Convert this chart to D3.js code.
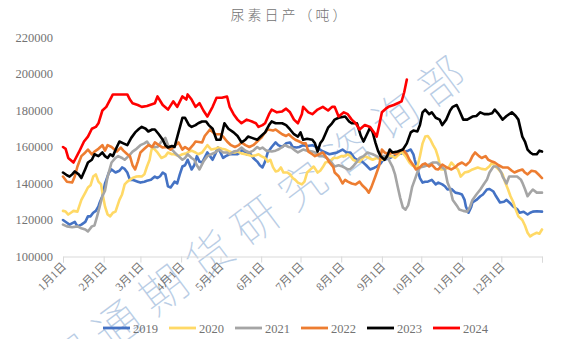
<!DOCTYPE html>
<html><head><meta charset="utf-8">
<script src="https://cdn.jsdelivr.net/npm/d3@7/dist/d3.min.js"></script>
<style>
html,body{margin:0;padding:0;background:#fff;}
svg{display:block;}
</style></head>
<body><svg id="c" width="586" height="339"></svg>
<script>
// ---- data (day of year, daily output in thousand tonnes) ----
const title = "尿素日产（吨）";
const seriesNames = ["2019","2020","2021","2022","2023","2024"];
const seriesColors = ["#4472C4","#FFD966","#A5A5A5","#ED7D31","#000000","#FF0000"];
const monthLabels = ["1月1日","2月1日","3月1日","4月1日","5月1日","6月1日","7月1日","8月1日","9月1日","10月1日","11月1日","12月1日"];
const monthStartDays = [0,31,59,90,120,151,181,212,243,273,304,334];
const yTicks = [100000,120000,140000,160000,180000,200000,220000];
const watermark = "冠通期货研究咨询部";

const s2019 = [[0,120],[3,118.5],[5,117.5],[9,119],[11,116.5],[14,117.5],[17,119],[19,122],[21,122],[23,124],[25,125],[27,127.4],[28,129.6],[30,133],[32,140],[33,142],[35,146],[37,147.7],[40,146],[43,147],[45,148.8],[47,148],[49,146],[51,142],[53,142],[57,141],[59,140.5],[62,141],[64,141.5],[67,142],[70,143.8],[72,143],[74,144],[76,146],[78,145],[80,138.4],[82,137.8],[85,141],[87,140],[89,145],[91,149.3],[93,150],[95,153],[98,147.7],[100,150],[102,155],[104,152],[106,151.5],[110,157],[112,155],[114,153],[116,156],[118,159.7],[120,157],[122,154],[124,155],[127,156],[130,156],[133,156],[135,157],[137,158.6],[140,156],[142,157],[145,154],[148,152],[150,150],[152,148.8],[154,152],[156,157],[159,160],[162,162.5],[164,161],[167,160],[170,162],[173,162.5],[175,160],[178,159.7],[180,160],[183,161],[186,160.5],[190,161],[194,159.7],[197,158],[200,157],[203,156],[206,156.5],[209,157],[213,158.6],[216,157],[219,157],[222,154],[224,153],[226,152.5],[228,152],[231,150],[234,147.7],[237,148.5],[239,149.3],[242,151],[244,153],[247,153.5],[249,154],[252,155],[255,156],[258,156.5],[261,157.5],[263,158],[265,158.6],[267,156],[268,153],[270,148],[272,143],[274,140.5],[276,141],[278,141],[281,142],[284,139.5],[286,140.5],[289,139.5],[291,138.5],[293,136.7],[296,137],[299,135],[302,134.5],[304,134],[306,131],[307,127.4],[309,124],[311,127],[312,129.6],[315,131],[318,133],[320,134],[323,136.7],[325,137],[328,135.6],[330,133],[333,129.6],[336,130],[338,131],[341,129],[343,127.4],[346,126],[348,124],[351,124.5],[354,123],[356,124],[358,124.6],[361,124.8],[365,124.6]];
const s2020 = [[0,125],[2,124.6],[4,123],[6,124],[8,125],[11,124.6],[14,131],[17,135],[19,137.8],[21,139],[23,143.8],[25,145],[27,141],[29,139.5],[30,135],[32,127.4],[34,123],[36,122],[38,124],[40,124.6],[43,131],[45,134],[47,139.5],[49,141],[51,142],[53,143],[56,143.8],[58,144],[60,143.8],[62,145],[64,149.3],[66,153],[67,157],[68,160],[70,158.6],[72,157],[75,154],[78,155],[80,157],[83,156],[85,156],[88,155],[91,156],[94,156.5],[96,157.5],[98,158],[101,157],[103,156],[106,157],[110,161],[113,158.6],[116,159],[118,159.7],[121,159],[124,158.6],[127,157.5],[129,157],[131,157],[133,157.5],[136,156.5],[139,156],[142,155.5],[144,155],[147,155.5],[149,156],[151,155],[154,154],[156,152],[158,153],[160,149],[162,146.6],[164,147],[166,148.8],[168,146],[171,146],[173,145],[175,143],[177,142],[179,140.5],[182,139.5],[184,141],[186,146],[189,148],[191,149.3],[194,146],[196,147],[198,149],[200,151.5],[203,152],[206,154],[209,154],[212,155],[215,155],[217,156],[219,155],[221,153],[224,152],[226,152],[230,155],[233,154],[236,153],[239,154],[243,153],[246,154],[248,155],[251,155],[253,154],[256,156],[258,157.5],[261,155],[264,151.5],[266,150],[268,149.3],[270,149],[272,155],[274,162],[276,165.7],[278,166],[280,164],[282,161],[284,158.6],[286,154],[288,147.7],[291,147.7],[294,149],[296,151.5],[299,149],[301,147.7],[303,143.8],[306,146],[309,146.5],[312,147.7],[316,148.8],[319,148],[322,147.7],[325,149.5],[327,151.5],[330,149],[332,147.7],[335,145],[337,140.5],[339,137],[341,133],[343,130],[345,125.7],[347,122],[350,120],[352,117],[354,113],[356,111],[358,112],[361,113],[363,112.5],[365,114.8]];
const s2021 = [[0,117.5],[3,116.5],[7,116],[11,116.5],[14,115.5],[17,114.8],[19,113.7],[22,116.5],[24,117],[26,122],[28,127.4],[30,133],[32,136],[34,143.8],[37,151.5],[40,154],[42,155],[45,154],[47,153],[50,155],[53,157.5],[56,159],[59,161],[62,162],[64,163],[66,161],[68,160],[70,160],[72,160],[75,163],[78,165],[80,161],[83,158.6],[85,157],[88,155],[91,153],[93,154],[95,156],[98,154],[100,153],[102,150],[104,147.7],[107,152],[110,155],[113,156],[116,157],[119,158.6],[122,157],[125,157],[127,156],[130,157.5],[133,158],[136,159.7],[139,158],[142,157],[145,158],[148,160],[150,159],[152,159.7],[155,158],[159,157.5],[162,158],[164,158.6],[167,160],[169,161],[172,160],[174,159.7],[177,158],[179,157],[183,158.6],[186,158],[190,157.5],[192,157],[195,155],[198,155],[201,154],[204,152],[207,149.3],[210,150],[213,149.3],[215,148.5],[217,147.7],[219,148],[221,149.3],[224,152],[226,154],[229,155],[232,157],[234,156.5],[236,156],[239,155],[241,154],[244,155],[247,155],[249,152],[251,149.3],[253,145],[255,138.4],[257,132],[259,126.8],[261,125.7],[263,128],[264,131],[266,138],[268,142],[270,146],[272,148.8],[275,149.3],[278,150],[282,151.5],[285,151.5],[289,148.8],[291,147.7],[293,140.5],[295,137],[297,131],[300,128],[302,125.7],[305,125],[308,124.6],[310,127],[312,131],[315,134],[318,136.7],[321,140],[323,142],[325,146],[328,149.3],[331,149.3],[334,146],[335,143.8],[338,140],[340,143.8],[343,143.8],[346,143.8],[349,142],[350,140.5],[352,137],[354,133],[356,135],[358,136.7],[361,135],[365,135]];
const s2022 = [[0,143.8],[3,141],[7,140.5],[9,144],[11,149.3],[14,155],[17,157],[19,158.6],[22,156],[24,157.5],[27,159],[30,161],[32,158],[34,161],[37,160],[41,157.5],[44,159.7],[46,158],[49,156],[51,155],[53,150],[55,147.7],[57,152],[59,157],[62,159],[65,161],[68,160],[70,162.5],[73,161],[76,159.7],[79,160],[82,158.6],[85,160.5],[88,162.5],[91,158.6],[93,160],[96,158.6],[99,161],[101,163],[106,162.5],[108,166],[112,169.6],[116,167],[120,167],[122,165.7],[125,163],[128,161],[131,160],[134,161],[136,162.5],[139,161],[142,160],[145,161],[148,163],[151,165],[153,167],[156,169.6],[160,169],[162,169.6],[165,168],[167,167],[170,166],[172,167],[175,165],[177,164],[180,163],[183,162],[185,162],[187,157.5],[190,156],[192,155],[195,156],[198,157],[201,154],[203,151.5],[206,149],[207,146],[210,144],[213,140],[215,142],[217,141],[220,140],[223,139.5],[226,141],[228,139],[231,137],[233,135],[235,138],[238,143.8],[241,150],[243,158.6],[245,157],[248,156],[251,157],[254,156],[257,158],[259,158.6],[262,156],[264,153],[267,150],[269,147.7],[272,149],[274,150.4],[276,151],[279,149.3],[281,150.4],[284,148],[286,147.7],[289,150.4],[292,149],[296,147.7],[299,149],[301,150.4],[304,151.5],[307,150],[310,152],[312,155],[314,157],[317,155],[319,154],[322,155],[324,153],[327,152],[329,151.5],[332,150],[335,148.8],[339,148.8],[342,147],[344,146],[347,147],[350,147.7],[352,146],[354,145],[357,147],[360,146.6],[363,144.5],[365,143]];
const s2023 = [[0,146],[3,144.5],[5,143.8],[7,145],[9,146.6],[12,145],[14,143],[17,148],[19,151.5],[22,153],[24,156],[27,155],[30,157],[32,155],[34,154],[36,156],[38,155],[41,160],[43,163],[46,162],[49,161],[52,165],[55,168],[58,170],[60,171],[63,170],[65,168.5],[68,169.6],[70,169.6],[73,167],[76,164],[78,161],[80,159.7],[83,160.5],[85,160],[88,168],[91,176],[93,176],[96,172],[98,171],[101,172],[103,173],[106,174],[109,174],[111,172],[114,170],[117,164],[120,164],[123,173],[126,170],[130,168],[133,166],[136,162.5],[139,164],[141,165.7],[144,165],[148,164],[151,166],[154,168],[157,172],[159,174],[162,173],[164,173],[167,173],[170,172],[173,169.6],[176,167],[179,165.7],[181,168],[183,164],[186,164.5],[190,164],[192,162],[194,157.5],[196,162],[198,164],[202,170.6],[205,173],[207,175],[210,176],[215,176.7],[218,174],[220,173],[224,173],[227,166],[229,163],[231,166],[234,170.6],[236,168],[238,162.5],[240,158],[242,155],[245,153],[247,155],[249,158.6],[251,157],[255,157.5],[259,158.6],[262,162],[265,168],[267,169],[270,168.5],[272,172],[274,179],[276,180.5],[279,178],[281,179],[284,176],[287,175],[289,172],[292,175],[295,180],[297,182],[300,183],[302,180],[305,175],[308,175],[312,176.7],[315,177],[318,179],[321,178],[324,178],[327,178.5],[329,180.5],[332,178],[335,175],[338,177],[342,179],[345,177],[347,175],[350,165.7],[352,163],[354,158.6],[356,157],[358,156],[361,156],[363,158],[365,157.5]];
const s2024 = [[0,160],[2,159],[4,154],[8,151.5],[12,157],[16,163],[19,165.7],[22,170],[25,171],[27,173],[30,180],[33,182],[38,188.8],[44,188.8],[49,188.8],[51,186],[53,184],[57,183],[60,182],[64,182.5],[70,184],[72,187.7],[76,183],[80,180.5],[84,185],[87,182],[91,187.7],[94,186],[95,188.8],[98,186],[101,182],[104,184],[107,180],[110,176.7],[114,182],[117,187],[121,187],[125,187.7],[127,182],[130,178],[133,175],[136,173],[140,175],[144,174],[147,173],[149,171],[152,172],[154,173],[157,178],[159,180.5],[163,179],[167,179.5],[170,181],[173,179],[176,175],[179,173],[182,178],[183,182],[187,179],[190,178],[194,180.5],[198,182],[202,180],[205,182],[207,182],[210,176.7],[214,179],[217,178],[220,175],[223,173],[226,169.6],[230,172],[234,171],[237,168],[239,165.7],[241,172],[243,179],[246,181],[248,182],[252,183],[255,184],[258,185],[260,190],[262,197]];
const allSeries = [s2019, s2020, s2021, s2022, s2023, s2024];

// ---- drawing ----
const svg = d3.select("#c");
const x = d3.scaleLinear().domain([0,365]).range([63,542]);
const y = d3.scaleLinear().domain([100000,220000]).range([256.5,37.5]);
const serif = "'Liberation Serif','Times New Roman','Noto Sans CJK SC',serif";
const grey = "#737373";

// watermark (under the lines)
svg.append("text").attr("transform","translate(62,387) rotate(-36.9)")
  .attr("font-family","'Noto Sans CJK SC',sans-serif").attr("font-weight",100)
  .attr("font-size",46).attr("letter-spacing",12)
  .attr("fill","#b9cde5").text(watermark);

svg.append("text").attr("x",290).attr("y",20).attr("text-anchor","middle")
  .attr("font-family","'Noto Sans CJK SC',sans-serif").attr("font-weight",300)
  .attr("font-size",14).attr("letter-spacing",3).attr("fill",grey).text(title);

// y labels
svg.append("g").selectAll("text").data(yTicks).join("text")
  .attr("x",53).attr("y",d=>y(d)+4).attr("text-anchor","end")
  .attr("font-family",serif).attr("font-weight","normal").attr("font-size",12.5).attr("fill",grey)
  .text(d=>d3.format("d")(d));

// x axis
const xa = svg.append("g").attr("transform","translate(0,256.5)")
  .call(d3.axisBottom(x).tickValues(monthStartDays.concat([365])).tickSize(6).tickFormat(""));
xa.select(".domain").attr("stroke","#d9d9d9");
xa.selectAll(".tick line").attr("stroke","#d9d9d9");
svg.append("g").selectAll("text").data(monthStartDays).join("text")
  .attr("transform",(d,i)=>`translate(${x(d)+4},${267}) rotate(-45)`)
  .attr("text-anchor","end")
  .attr("font-family","'Liberation Serif','Noto Sans CJK SC',serif")
  .attr("font-size",11.5).attr("fill",grey)
  .text((d,i)=>monthLabels[i]);

// lines
const line = d3.line().x(d=>x(d[0])).y(d=>y(d[1]*1000));
svg.append("g").selectAll("path").data(allSeries).join("path")
  .attr("d",line).attr("fill","none")
  .attr("stroke",(d,i)=>seriesColors[i]).attr("stroke-width",2.6)
  .attr("stroke-linejoin","round").attr("stroke-linecap","round");

// legend
const lg = svg.append("g").selectAll("g").data(seriesNames).join("g")
  .attr("transform",(d,i)=>`translate(${103+i*66},328)`);
lg.append("line").attr("x1",0).attr("x2",27).attr("y1",0).attr("y2",0)
  .attr("stroke",(d,i)=>seriesColors[i]).attr("stroke-width",2.8);
lg.append("text").attr("x",30).attr("y",4.5).attr("font-family",serif)
  .attr("font-size",12.5).attr("fill",grey).text(d=>d);
</script></body></html>
